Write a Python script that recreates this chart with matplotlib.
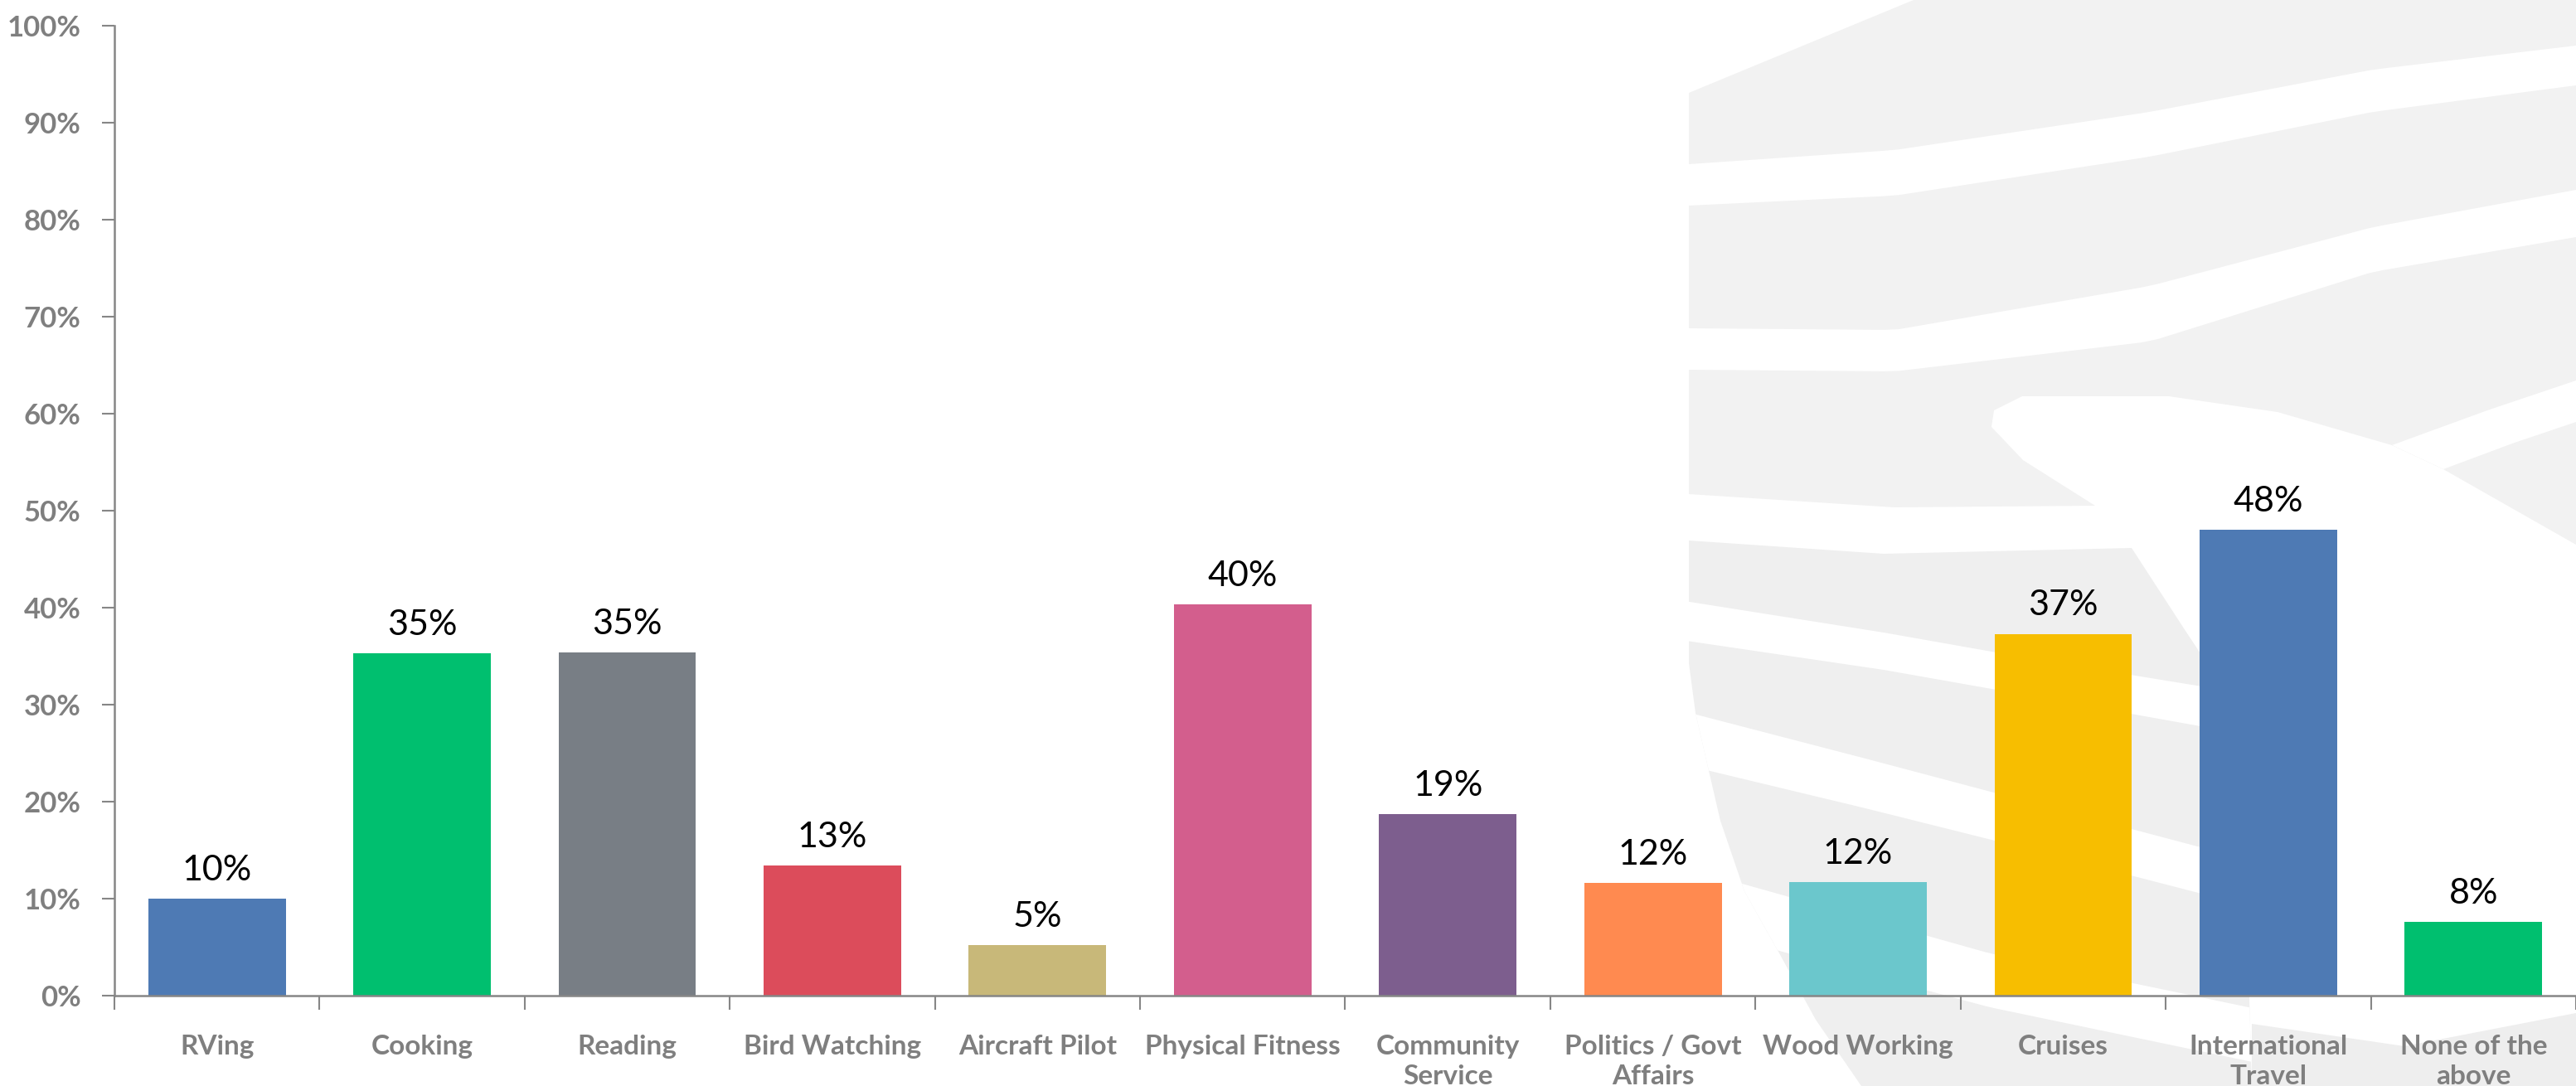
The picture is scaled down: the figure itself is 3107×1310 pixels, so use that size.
import numpy as np
import matplotlib
matplotlib.use("Agg")
from matplotlib import pyplot as plt
from matplotlib.patches import Polygon

plt.rcParams['font.family'] = ['Lato', 'DejaVu Sans']

# survey results: share of respondents per interest
categories = ["RVing", "Cooking", "Reading", "Bird Watching", "Aircraft Pilot",
              "Physical Fitness", "Community\nService", "Politics / Govt\nAffairs",
              "Wood Working", "Cruises", "International\nTravel", "None of the\nabove"]
shares = [10.0, 35.3, 35.4, 13.4, 5.2, 40.3, 18.7, 11.6, 11.7, 37.3, 48.0, 7.6]
bar_colors = ["#4e7ab4", "#00bf6f", "#787e85", "#dc4c5b", "#c8b879", "#d35e8d",
              "#7d5e8e", "#ff8a50", "#6bc7cc", "#f7be00", "#4e7ab4", "#00bf6f"]
yticks = np.arange(0, 101, 10)

W, H = 3107, 1310
fig = plt.figure(figsize=(W / 100, H / 100), dpi=100)
fig.patch.set_facecolor("white")

# faint globe watermark behind the chart, in pixel coordinates
bg = fig.add_axes([0, 0, 1, 1], zorder=0)
bg.set_xlim(0, W)
bg.set_ylim(H, 0)
bg.axis("off")


def smooth(pts, n=60):
    pts = np.asarray(pts, float)
    t = np.linspace(0, 1, len(pts))
    tt = np.linspace(0, 1, n)
    return np.column_stack([np.interp(tt, t, pts[:, 0]), np.interp(tt, t, pts[:, 1])])


def band(top, bottom, color="white", clip=None):
    poly = np.vstack([smooth(top), smooth(bottom)[::-1]])
    p = Polygon(poly, closed=True, fc=color, ec="none")
    bg.add_patch(p)
    if clip is not None:
        p.set_clip_path(clip)
    return p


upper = Polygon([(2037, 112), (2308, 0), (3107, 0), (3107, 657), (2947, 566),
                 (2885, 537), (2747, 497), (2616, 478), (2439, 478), (2405, 495),
                 (2402, 515), (2440, 555), (2527, 610), (2285, 612), (2037, 596)],
                closed=True, fc="#f2f2f2", ec="none")
bg.add_patch(upper)
band([(2037, 198), (2285, 181), (2593, 135), (2862, 84), (3107, 55)],
     [(2037, 248), (2285, 236), (2593, 189), (2862, 135), (3107, 103)], clip=upper)
band([(2037, 396), (2285, 398), (2593, 345), (2862, 274), (3107, 229)],
     [(2037, 446), (2285, 448), (2593, 412), (2862, 328), (3107, 286)], clip=upper)
band([(2885, 537), (3000, 495), (3107, 459)],
     [(2947, 566), (3030, 535), (3107, 509)], clip=upper)

lower = Polygon([(2037, 652), (2272, 668), (2571, 661), (2634, 758), (2679, 826),
                 (2700, 950), (2710, 1100), (2716, 1310), (2245, 1310), (2190, 1230),
                 (2145, 1148), (2104, 1075), (2075, 990), (2059, 921), (2045, 860),
                 (2037, 800)],
                closed=True, fc="#efefef", ec="none")
bg.add_patch(lower)
band([(2000, 720), (2272, 763), (2453, 795), (2760, 845)],
     [(2000, 768), (2272, 808), (2453, 840), (2760, 895)], clip=lower)
band([(2000, 850), (2250, 915), (2450, 968), (2760, 1050)],
     [(2000, 915), (2250, 975), (2450, 1025), (2760, 1105)], clip=lower)
band([(2080, 1060), (2400, 1150), (2760, 1225)],
     [(2120, 1140), (2400, 1215), (2760, 1290)], clip=lower)

# rim of the globe along the bottom right
rim = np.vstack([smooth([(2716, 1235), (2900, 1262), (3107, 1222)]),
                 [(3107, 1310), (2716, 1310)]])
bg.add_patch(Polygon(rim, closed=True, fc="#eeeeee", ec="none"))

# bar chart
ax = fig.add_axes([138 / W, 1 - 1201 / H, 1 - 138 / W, (1201 - 31) / H], zorder=1)
ax.set_facecolor("none")
x = np.arange(len(categories))
ax.bar(x, shares, width=0.67, color=bar_colors, zorder=2)

for xi, v in zip(x, shares):
    ax.annotate(f"{v:.0f}%", (xi, v), xytext=(0, 11), textcoords="offset points",
                ha="center", va="bottom", fontsize=31, color="black")

ax.set_xlim(-0.5, len(categories) - 0.5)
ax.set_ylim(0, 100)
ax.set_yticks(yticks)
ax.set_yticklabels([f"{t}%" for t in yticks])

ax.set_xticks(x)
ax.set_xticklabels(categories, linespacing=1.3)
ax.set_xticks(np.arange(-0.5, len(categories), 1), minor=True)
ax.tick_params(axis="x", which="major", length=0, pad=34, labelsize=24,
               labelcolor="#7f7f7f")
ax.tick_params(axis="x", which="minor", length=12, width=1.5, color="#868686")
ax.tick_params(axis="y", length=11, width=1.5, color="#868686", pad=18,
               labelsize=25, labelcolor="#7f7f7f")
for lbl in ax.get_xticklabels() + ax.get_yticklabels():
    lbl.set_fontweight("bold")

for side in ("top", "right"):
    ax.spines[side].set_visible(False)
for side in ("left", "bottom"):
    ax.spines[side].set_color("#868686")
    ax.spines[side].set_linewidth(1.8)

fig.savefig("out.png", dpi=100)
